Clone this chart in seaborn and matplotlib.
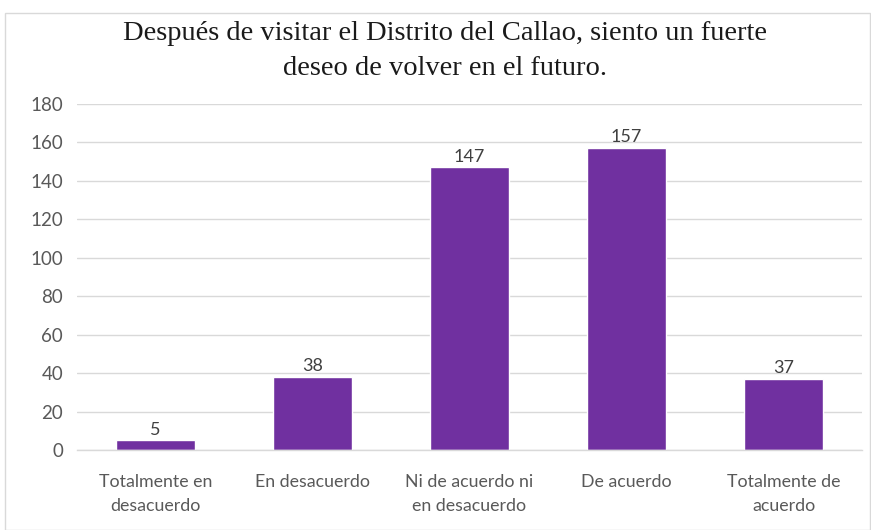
import matplotlib
matplotlib.use("Agg")
import matplotlib.pyplot as plt
from matplotlib.patches import Rectangle
import seaborn as sns
import pandas as pd

categorias = [
    "Totalmente en\ndesacuerdo",
    "En desacuerdo",
    "Ni de acuerdo ni\nen desacuerdo",
    "De acuerdo",
    "Totalmente de\nacuerdo",
]
frecuencias = [5, 38, 147, 157, 37]
marcas_y = [0, 20, 40, 60, 80, 100, 120, 140, 160, 180]
titulo = "Después de visitar el Distrito del Callao, siento un fuerte\ndeseo de volver en el futuro."

sns.set_theme(style="white")
plt.rcParams["font.family"] = ["Lato", "DejaVu Sans"]

W, H = 871, 530
fig = plt.figure(figsize=(W / 100, H / 100), dpi=100)
ax = fig.add_axes([77 / W, 80 / H, (862 - 77) / W, 346 / H])

df = pd.DataFrame({"categoria": categorias, "n": frecuencias})
sns.barplot(data=df, x="categoria", y="n", color="#7030A0", saturation=1,
            width=0.5, ax=ax)

ax.set_ylim(0, 180)
ax.set_yticks(marcas_y)
ax.set_xlim(-0.5, len(categorias) - 0.5)
ax.yaxis.grid(True, color="#D9D9D9", linewidth=1)
ax.set_axisbelow(True)
for s in ["top", "right", "left"]:
    ax.spines[s].set_visible(False)
ax.spines["bottom"].set_color("#D9D9D9")
ax.spines["bottom"].set_linewidth(1)
ax.set_xlabel("")
ax.set_ylabel("")
ax.tick_params(axis="y", length=0, pad=10, labelsize=13.5, labelcolor="#595959")
ax.tick_params(axis="x", length=0, pad=17, labelsize=12.8, labelcolor="#595959")
for lbl in ax.get_xticklabels():
    lbl.set_linespacing(1.65)

for cont in ax.containers:
    ax.bar_label(cont, labels=[str(v) for v in frecuencias], padding=2,
                 fontsize=13, color="#404040")

fig.text(445 / W, 1 - 51 / H, titulo, ha="center", va="center",
         family=["Liberation Serif", "DejaVu Serif"], fontsize=20.5,
         color="#1a1a1a", linespacing=1.55)

fig.patches.append(Rectangle((5 / W, 0), (W - 6) / W, 1 - 13 / H,
                             transform=fig.transFigure, fill=False,
                             edgecolor="#D9D9D9", linewidth=1))

fig.savefig("out.png", dpi=100, facecolor="white")
